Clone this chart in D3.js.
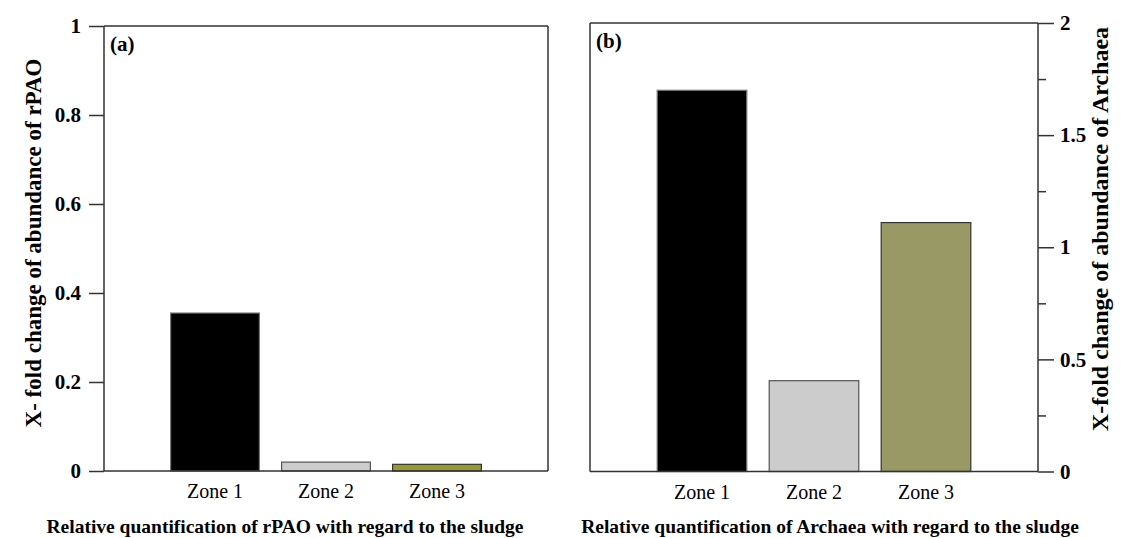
<!DOCTYPE html>
<html><head><meta charset="utf-8">
<script src="https://cdn.jsdelivr.net/npm/d3@7"></script>
<style>body{margin:0;background:#fff}svg{display:block}</style>
</head><body>
<svg id="c" width="1126" height="538"></svg>
<script>
const categories = ["Zone 1", "Zone 2", "Zone 3"];
const rpaoValues = [0.355, 0.02, 0.015];
const archaeaValues = [1.70, 0.405, 1.11];
const leftTicks = [0, 0.2, 0.4, 0.6, 0.8, 1];
const rightTicks = [0, 0.5, 1, 1.5, 2];
const rightMinorTicks = [0.25, 0.75, 1.25, 1.75];
const leftColors = ["#000000", "#cccccc", "#999933"];
const rightColors = ["#000000", "#cccccc", "#999966"];
const barStrokes = ["#777777", "#555555", "#333333"];

const FONT = "'Liberation Serif', 'Times New Roman', Times, serif";
const svg = d3.select("#c");
const axisColor = "#333";

function panel(o) {
  const g = svg.append("g");
  const x = d3.scalePoint().domain(o.cats).range([o.x0, o.x1]).padding(1);
  const y = d3.scaleLinear().domain(o.domain).range([o.yb, o.yt]);
  const bw = x.step() * 0.8;
  g.selectAll("rect.bar").data(o.vals).join("rect")
    .attr("x", (d, i) => x(o.cats[i]) - bw / 2)
    .attr("y", d => y(d))
    .attr("width", bw)
    .attr("height", d => y(0) - y(d))
    .attr("fill", (d, i) => o.colors[i])
    .attr("stroke", (d, i) => barStrokes[i])
    .attr("stroke-width", 1.2);
  const fr = g.append("g").attr("stroke", axisColor).attr("stroke-width", 1.5).attr("fill", "none");
  fr.append("line").attr("x1", o.x0).attr("x2", o.x1).attr("y1", y(0)).attr("y2", y(0));
  fr.append("line").attr("x1", o.x0).attr("x2", o.x1).attr("y1", o.yt).attr("y2", o.yt);
  fr.append("line").attr("x1", o.x0).attr("x2", o.x0).attr("y1", o.yt).attr("y2", o.yb);
  fr.append("line").attr("x1", o.x1).attr("x2", o.x1).attr("y1", o.yt).attr("y2", o.yb);
  const ax = o.side === "left"
    ? d3.axisLeft(y).tickValues(o.ticks).tickSize(15).tickPadding(8).tickFormat(d3.format("~g"))
    : d3.axisRight(y).tickValues(o.ticks).tickSize(16).tickPadding(6).tickFormat(d3.format("~g"));
  const ag = g.append("g").attr("transform", `translate(${o.side === "left" ? o.x0 : o.x1},0)`).call(ax);
  ag.attr("font-family", FONT);
  ag.select(".domain").remove();
  ag.selectAll("line").attr("stroke", axisColor).attr("stroke-width", 1.5);
  ag.selectAll("text").attr("font-size", 21).attr("font-weight", "bold").attr("fill", "#000")
    .attr("font-family", FONT);
  if (o.minor) {
    const mg = g.append("g").attr("transform", `translate(${o.x1},0)`)
      .call(d3.axisRight(y).tickValues(o.minor).tickSize(8).tickFormat(""));
    mg.select(".domain").remove();
    mg.selectAll("line").attr("stroke", axisColor).attr("stroke-width", 1.5);
  }
  g.selectAll("text.xl").data(o.cats).join("text").attr("class", "xl")
    .attr("x", d => x(d)).attr("y", y(0) + 27)
    .attr("text-anchor", "middle").attr("font-size", 20).attr("font-family", FONT).text(d => d);
  g.append("text").attr("x", o.x0 + 6).attr("y", o.yt + 25).attr("font-family", FONT)
    .attr("font-size", 21).attr("font-weight", "bold").text(o.letter);
  g.append("text").attr("x", o.xtX).attr("y", 533).attr("text-anchor", "middle").attr("font-family", FONT)
    .attr("font-size", 19.5).attr("font-weight", "bold").text(o.xtitle);
  g.append("text").attr("transform", `translate(${o.ytX},${o.ytY}) rotate(-90)`).attr("font-family", FONT)
    .attr("text-anchor", "middle").attr("font-size", o.ytSize).attr("font-weight", "bold").text(o.ytitle);
}

panel({cats: categories, vals: rpaoValues, colors: leftColors, domain: [0, 1], ticks: leftTicks,
  x0: 104, x1: 548, yt: 26, yb: 471, side: "left", letter: "(a)",
  xtitle: "Relative quantification of rPAO with regard to the sludge", xtX: 285,
  ytitle: "X- fold change of abundance of rPAO", ytX: 41, ytY: 243, ytSize: 23});
panel({cats: categories, vals: archaeaValues, colors: rightColors, domain: [0, 2], ticks: rightTicks,
  minor: rightMinorTicks,
  x0: 590, x1: 1038, yt: 23, yb: 471.5, side: "right", letter: "(b)",
  xtitle: "Relative quantification of Archaea with regard to the sludge", xtX: 830,
  ytitle: "X-fold change of abundance of Archaea", ytX: 1108, ytY: 229, ytSize: 24});
</script>
</body></html>
